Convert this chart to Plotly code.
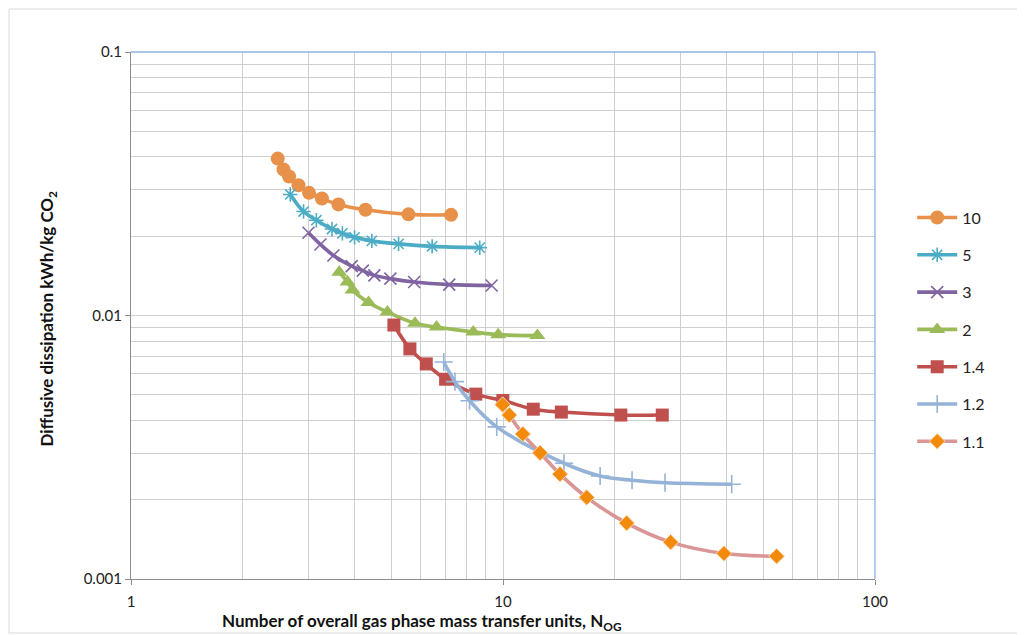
import plotly.graph_objects as go

# ---- data ----
x_10 = [2.48, 2.57, 2.66, 2.82, 3.01, 3.26, 3.61, 4.27, 5.57, 7.25]
y_10 = [0.0394, 0.0358, 0.0337, 0.0312, 0.0292, 0.0278, 0.0264, 0.0252, 0.0242, 0.0241]

x_5 = [2.68, 2.91, 3.15, 3.47, 3.70, 3.99, 4.44, 5.24, 6.45, 8.66]
y_5 = [0.0288, 0.0248, 0.0230, 0.0213, 0.0205, 0.0198, 0.0192, 0.0187, 0.0183, 0.0181]

x_3 = [3.00, 3.23, 3.50, 3.92, 4.20, 4.51, 4.98, 5.77, 7.17, 9.32]
y_3 = [0.0206, 0.0186, 0.0169, 0.0154, 0.0148, 0.0142, 0.0138, 0.0134, 0.0131, 0.0130]

x_2 = [3.63, 3.82, 3.94, 4.35, 4.89, 5.80, 6.63, 8.32, 9.71, 12.37]
y_2 = [0.0146, 0.0134, 0.0125, 0.0112, 0.0103, 0.00934, 0.00904, 0.00866, 0.00846, 0.00839]

x_14 = [5.09, 5.62, 6.22, 7.01, 8.45, 9.99, 12.06, 14.35, 20.74, 26.8]
y_14 = [0.00920, 0.00747, 0.00655, 0.00573, 0.00503, 0.00476, 0.00441, 0.00430, 0.00419, 0.00419]

x_12 = [6.93, 7.43, 8.13, 9.62, 14.59, 18.24, 22.23, 27.26, 41.19]
y_12 = [0.00666, 0.00561, 0.00475, 0.00378, 0.00275, 0.00246, 0.00237, 0.00232, 0.00229]

x_11 = [9.98, 10.40, 11.30, 12.58, 14.23, 16.79, 21.50, 28.23, 39.27, 54.4]
y_11 = [0.00459, 0.00419, 0.00355, 0.00301, 0.00250, 0.00204, 0.00163, 0.00138, 0.00125, 0.00122]

series_names = ["10", "5", "3", "2", "1.4", "1.2", "1.1"]
x_tick_vals = [1, 10, 100]
x_tick_text = ["1", "10", "100"]
y_tick_vals = [0.001, 0.01, 0.1]
y_tick_text = ["0.001", "0.01", "0.1"]

# minor gridline positions (2..9 within each decade)
x_minor = [m * 10 ** e for e in (0, 1) for m in range(2, 10)]
y_minor = [m * 10 ** e for e in (-3, -2) for m in range(2, 10)]

FONT = "Lato, 'Open Sans', sans-serif"

styles = [
    dict(x=x_10, y=y_10, line="#E8914A", mcolor="#E8914A", symbol="circle", size=14, mline=None),
    dict(x=x_5, y=y_5, line="#4BACC6", mcolor="#4BACC6", symbol="asterisk-open", size=12, mline=None),
    dict(x=x_3, y=y_3, line="#8064A2", mcolor="#8064A2", symbol="x-thin-open", size=12, mline=None),
    dict(x=x_2, y=y_2, line="#9BBB59", mcolor="#9BBB59", symbol="triangle-up", size=14, mline=None),
    dict(x=x_14, y=y_14, line="#C0504D", mcolor="#C0504D", symbol="square", size=13, mline=None),
    dict(x=x_12, y=y_12, line="#95B3D7", mcolor="#95B3D7", symbol="cross-thin-open", size=13, mline=None),
    dict(x=x_11, y=y_11, line="#D99694", mcolor="#F28A0C", symbol="diamond", size=12, mline="#FAD9B0"),
]

fig = go.Figure()
for name, s in zip(series_names, styles):
    marker = dict(symbol=s["symbol"], size=s["size"], color=s["mcolor"])
    if s["symbol"].endswith("-open"):
        marker["line"] = dict(color=s["mcolor"], width=1.6)
    elif s["mline"]:
        marker["line"] = dict(color=s["mline"], width=1)
    else:
        marker["line"] = dict(width=0)
    fig.add_trace(go.Scatter(
        x=s["x"], y=s["y"], name=name, mode="lines+markers",
        line=dict(color=s["line"], width=3.6, shape="spline", smoothing=1.0),
        marker=marker, legendgroup=name,
    ))

grid_c = "#CFCFCF"
axis_c = "#8C8C8C"
fig.update_xaxes(
    type="log", range=[0, 2], tickvals=x_tick_vals, ticktext=x_tick_text,
    showgrid=True, gridcolor=grid_c, gridwidth=1.2,
    minor=dict(tickvals=x_minor, showgrid=True, gridcolor=grid_c, gridwidth=1.2, ticks=""),
    showline=True, linecolor=axis_c, linewidth=1, ticks="outside", ticklen=5,
    ticklabelstandoff=4,
    tickcolor=axis_c, tickfont=dict(family=FONT, size=15, color="#222"), zeroline=False,
)
fig.update_yaxes(
    type="log", range=[-3, -1], tickvals=y_tick_vals, ticktext=y_tick_text,
    showgrid=True, gridcolor=grid_c, gridwidth=1.2,
    minor=dict(tickvals=y_minor, showgrid=True, gridcolor=grid_c, gridwidth=1.2, ticks=""),
    showline=True, linecolor=axis_c, linewidth=1, ticks="outside", ticklen=5,
    tickcolor=axis_c, tickfont=dict(family=FONT, size=15, color="#222"), zeroline=False,
)

W, H = 1017, 627
L, T = 123, 44
PW, PH = 744, 527
R, B = W - L - PW, H - T - PH

fig.update_layout(
    width=W, height=H,
    margin=dict(l=L, r=R, t=T, b=B),
    paper_bgcolor="white", plot_bgcolor="white",
    font=dict(family=FONT, color="#222"),
    legend=dict(x=1.05, y=0.718, xanchor="left", yanchor="top",
                font=dict(family=FONT, size=16, color="#222"),
                tracegroupgap=13.5, itemwidth=40, bgcolor="rgba(0,0,0,0)"),
    showlegend=True,
    shapes=[
        dict(type="line", xref="paper", yref="paper", x0=0, x1=1, y0=1, y1=1,
             line=dict(color="#8DB3E2", width=1.3)),
        dict(type="line", xref="paper", yref="paper", x0=1, x1=1, y0=0, y1=1,
             line=dict(color="#8DB3E2", width=1.3)),
        dict(type="rect", xref="paper", yref="paper",
             x0=-(L - 1) / PW, x1=(W - L - 2) / PW, y0=-(B - 2) / PH, y1=1 + (T - 1) / PH,
             line=dict(color="#D9D9D9", width=1), layer="below"),
    ],
    annotations=[
        dict(text="<b>Number of overall gas phase mass transfer units, N<sub>OG</sub></b>",
             xref="paper", yref="paper", x=0.391, y=-0.082, xanchor="center", yanchor="middle",
             showarrow=False, font=dict(family=FONT, size=17, color="#111")),
        dict(text="<b>Diffusive dissipation kWh/kg CO<sub>2</sub></b>",
             xref="paper", yref="paper", x=-0.111, y=0.495, xanchor="center", yanchor="middle",
             textangle=-90, showarrow=False, font=dict(family=FONT, size=17, color="#111")),
    ],
)

fig.write_html("out.html")
